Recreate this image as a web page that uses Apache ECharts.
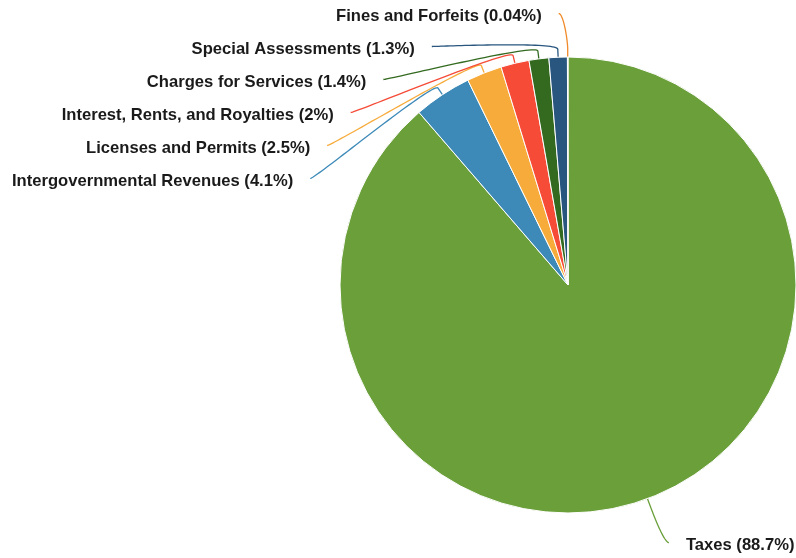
<!DOCTYPE html>
<html>
<head>
<meta charset="utf-8">
<script src="https://cdn.jsdelivr.net/npm/echarts@6/dist/echarts.min.js"></script>
<style>
  html, body { margin: 0; padding: 0; background: #fff; }
  #chart { width: 796px; height: 558px; }
</style>
</head>
<body>
<div id="chart"></div>
<script>
// Revenue sources, share of total (%)
const categories = [
  'Taxes',
  'Intergovernmental Revenues',
  'Licenses and Permits',
  'Interest, Rents, and Royalties',
  'Charges for Services',
  'Special Assessments',
  'Fines and Forfeits'
];
const shares = [88.7, 4.1, 2.5, 2.0, 1.4, 1.3, 0.04];
const colors = ['#6a9f3a', '#3d8ab8', '#f7ab3b', '#f54b37', '#336a20', '#28567f', '#f08a2a'];

const CENTER = [568, 285];
const STUB = 8;        // straight piece of the connector next to the slice
const LIFT = 3;        // connector meets the label slightly above its middle

// Soft connector: short radial stub at the slice, then a cubic curve to the label.
function softConnector(points) {
  const edge = points[0];
  const end = [points[2][0], points[2][1] - LIFT];
  const vx = edge[0] - CENTER[0], vy = edge[1] - CENTER[1];
  const vl = Math.hypot(vx, vy) || 1;
  const nx = vx / vl, ny = vy / vl;
  const brk = [edge[0] + nx * STUB, edge[1] + ny * STUB];
  const c2 = [brk[0] + nx * STUB, brk[1] + ny * STUB];
  const c1 = [end[0] + (end[0] < CENTER[0] ? 5 : -5), end[1]];
  const out = [edge, brk];
  const steps = 40;
  // walk the curve from the break point back to the label end
  for (let i = 1; i <= steps; i++) {
    const t = i / steps, u = 1 - t;
    const a = u * u * u, b = 3 * u * u * t, c = 3 * u * t * t, d = t * t * t;
    out.push([
      a * brk[0] + b * c2[0] + c * c1[0] + d * end[0],
      a * brk[1] + b * c2[1] + c * c1[1] + d * end[1]
    ]);
  }
  return out;
}

const chart = echarts.init(document.getElementById('chart'), null, { renderer: 'canvas' });
chart.setOption({
  animation: false,
  series: [{
    type: 'pie',
    center: CENTER,
    radius: [0, 228],
    startAngle: 90,
    clockwise: true,
    avoidLabelOverlap: true,
    data: categories.map((name, i) => {
      const item = { name: name, value: shares[i], itemStyle: { color: colors[i] } };
      if (i === 0) item.labelLine = { length: 50, length2: 4 };
      return item;
    }),
    itemStyle: { borderColor: '#ffffff', borderWidth: 1 },
    label: {
      show: true,
      formatter: p => p.name + ' (' + p.value + '%)',
      fontFamily: 'Liberation Sans, Arial, sans-serif',
      fontWeight: 'bold',
      fontSize: 16.6,
      lineHeight: 19,
      padding: [6, 12],
      overflow: 'none',
      color: '#1a1a1a'
    },
    labelLine: {
      show: true,
      smooth: false,
      length: 47,
      length2: 9,
      lineStyle: { width: 1.3 }
    },
    labelLayout: params => {
      const pts = params.labelLinePoints;
      if (!pts || pts.length < 3) return {};
      return { labelLinePoints: softConnector(pts) };
    }
  }]
});
</script>
</body>
</html>
